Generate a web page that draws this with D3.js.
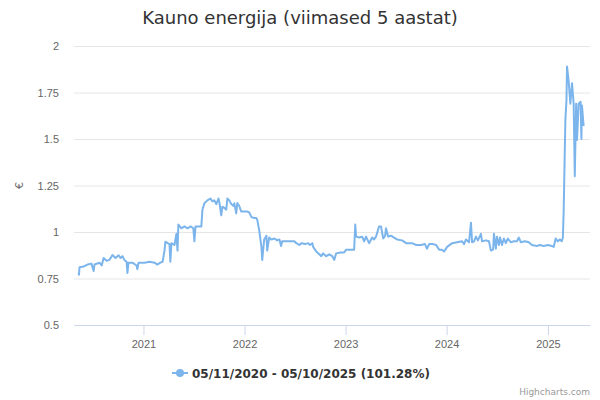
<!DOCTYPE html>
<html>
<head>
<meta charset="utf-8">
<script src="https://cdn.jsdelivr.net/npm/d3@7"></script>
<style>
  body { margin: 0; background: #fff; }
  svg { font-family: "DejaVu Sans", sans-serif; }
</style>
</head>
<body>
<svg id="chart"></svg>
<script>
// price history
const dates = [
  '2020-05-11','2020-05-13','2020-05-15','2020-05-30','2020-06-13','2020-06-27','2020-07-05','2020-07-08','2020-07-26','2020-08-03',
  '2020-08-10','2020-08-21','2020-08-31','2020-09-11','2020-09-22','2020-10-03','2020-10-10','2020-10-17','2020-10-24','2020-11-01',
  '2020-11-04','2020-11-08','2020-11-22','2020-12-07','2020-12-10','2020-12-14','2021-01-05','2021-01-23','2021-02-10','2021-02-20',
  '2021-03-03','2021-03-11','2021-03-18','2021-03-21','2021-03-29','2021-04-05','2021-04-08','2021-04-12','2021-04-23','2021-04-30',
  '2021-05-04','2021-05-07','2021-05-18','2021-05-29','2021-06-09','2021-06-20','2021-06-30','2021-07-04','2021-07-08','2021-07-29',
  '2021-08-02','2021-08-09','2021-08-20','2021-08-31','2021-09-07','2021-09-14','2021-09-21','2021-09-29','2021-10-02','2021-10-09',
  '2021-10-13','2021-10-20','2021-10-27','2021-10-31','2021-11-07','2021-11-14','2021-11-22','2021-11-25','2021-12-02','2021-12-06',
  '2021-12-13','2021-12-20','2021-12-31','2022-01-11','2022-01-18','2022-01-26','2022-02-05','2022-02-13','2022-02-16','2022-02-23',
  '2022-03-03','2022-03-06','2022-03-13','2022-03-21','2022-03-24','2022-03-31','2022-04-08','2022-04-19','2022-04-29','2022-05-07',
  '2022-05-13','2022-05-17','2022-06-12','2022-06-30','2022-07-07','2022-07-18','2022-07-25','2022-08-08','2022-08-19','2022-08-26',
  '2022-09-03','2022-09-06','2022-09-17','2022-09-28','2022-10-05','2022-10-12','2022-10-23','2022-11-03','2022-11-14','2022-11-21',
  '2022-11-28','2022-12-13','2022-12-27','2023-01-03','2023-01-21','2023-02-01','2023-02-05','2023-02-08','2023-02-19','2023-03-02',
  '2023-03-09','2023-03-16','2023-03-27','2023-04-07','2023-04-14','2023-04-21','2023-04-25','2023-05-02','2023-05-09','2023-05-17',
  '2023-05-24','2023-05-27','2023-06-04','2023-06-14','2023-06-25','2023-07-06','2023-07-24','2023-08-08','2023-08-29','2023-09-13',
  '2023-10-01','2023-10-15','2023-10-22','2023-10-30','2023-11-13','2023-11-24','2023-12-05','2023-12-15','2023-12-23','2024-01-03',
  '2024-01-21','2024-02-08','2024-02-26','2024-03-04','2024-03-11','2024-03-22','2024-03-29','2024-04-02','2024-04-09','2024-04-16',
  '2024-04-23','2024-05-04','2024-05-08','2024-05-22','2024-06-02','2024-06-09','2024-06-17','2024-06-20','2024-06-27','2024-07-01',
  '2024-07-08','2024-07-12','2024-07-19','2024-07-26','2024-08-02','2024-08-09','2024-08-20','2024-08-31','2024-09-11','2024-09-18',
  '2024-09-25','2024-10-10','2024-10-24','2024-11-04','2024-11-22','2024-12-03','2024-12-17','2025-01-01','2025-01-15','2025-01-22',
  '2025-01-29','2025-02-06','2025-02-13','2025-02-20','2025-02-24','2025-02-27','2025-03-05','2025-03-09','2025-03-11','2025-03-17',
  '2025-03-23','2025-03-29','2025-04-04','2025-04-08','2025-04-13','2025-04-16','2025-04-22','2025-04-29','2025-05-02','2025-05-04',
  '2025-05-10'
]
const prices = [
  0.78,0.77,0.81,0.815,0.825,0.83,0.79,0.825,0.835,0.82,
  0.86,0.845,0.85,0.876,0.86,0.875,0.86,0.87,0.85,0.84,
  0.78,0.835,0.835,0.82,0.80,0.835,0.835,0.84,0.835,0.825,
  0.835,0.84,0.90,0.948,0.94,0.935,0.84,0.94,0.93,0.99,
  0.90,1.04,1.02,1.03,1.02,1.03,1.02,0.95,1.03,1.03,
  1.12,1.155,1.17,1.18,1.165,1.17,1.15,1.18,1.16,1.09,
  1.136,1.13,1.12,1.18,1.17,1.15,1.14,1.155,1.10,1.156,
  1.14,1.11,1.11,1.11,1.105,1.08,1.075,1.075,1.065,1.01,
  0.92,0.85,0.96,0.98,0.90,0.97,0.96,0.965,0.955,0.96,
  0.925,0.95,0.95,0.95,0.94,0.93,0.94,0.935,0.94,0.93,
  0.94,0.92,0.895,0.88,0.87,0.885,0.87,0.88,0.87,0.85,
  0.885,0.89,0.89,0.905,0.905,0.905,1.04,0.975,0.97,0.975,
  0.95,0.975,0.94,0.97,0.96,0.975,0.995,1.03,1.03,0.965,
  0.98,1.02,0.975,0.98,0.97,0.96,0.955,0.94,0.94,0.93,
  0.93,0.935,0.91,0.935,0.935,0.93,0.905,0.905,0.895,0.92,
  0.94,0.945,0.95,0.935,0.96,0.945,1.05,0.945,0.95,0.975,
  0.955,0.99,0.95,0.955,0.95,0.90,0.905,0.99,0.91,0.975,
  0.93,0.97,0.93,0.965,0.94,0.965,0.945,0.95,0.95,0.97,
  0.945,0.95,0.945,0.93,0.925,0.93,0.925,0.93,0.925,0.92,
  0.965,0.95,0.96,0.95,0.97,1.12,1.60,1.71,1.89,1.81,
  1.69,1.80,1.69,1.30,1.69,1.495,1.69,1.70,1.50,1.68,
  1.57
]
const yTicks = [0.5, 0.75, 1, 1.25, 1.5, 1.75, 2]
const xTicks = ['2021-01-01', '2022-01-01', '2023-01-01', '2024-01-01', '2025-01-01']
const xDomain = ['2020-04-25', '2025-06-02']
const title = 'Kauno energija (viimased 5 aastat)'
const seriesName = '05/11/2020 - 05/10/2025 (101.28%)'

const width = 600, height = 400
const margin = {top: 46, right: 10, bottom: 75, left: 74}
const color = '#7cb5ec'

const parse = d3.utcParse('%Y-%m-%d')
const data = dates.map((d, i) => ({date: parse(d), price: prices[i]}))

const svg = d3.select('#chart')
  .attr('width', width)
  .attr('height', height)

const x = d3.scaleUtc()
  .domain(xDomain.map(parse))
  .range([margin.left, width - margin.right])

const y = d3.scaleLinear()
  .domain([0.5, 2])
  .range([height - margin.bottom, margin.top])

// title
svg.append('text')
  .attr('x', width / 2)
  .attr('y', 24)
  .attr('text-anchor', 'middle')
  .attr('fill', '#333')
  .style('font-size', '18px')
  .text(title)

// y axis: gridlines + labels
const yAxis = svg.append('g')
  .attr('transform', 'translate(' + margin.left + ',0)')
  .call(d3.axisLeft(y).tickValues(yTicks)
    .tickSize(-(width - margin.left - margin.right))
    .tickPadding(15)
    .tickFormat(d => String(d)))
yAxis.select('.domain').remove()
yAxis.selectAll('line').attr('stroke', '#e6e6e6')
yAxis.selectAll('text').attr('fill', '#666').style('font-size', '11px')

svg.append('text')
  .attr('transform', 'translate(23,' + y(1.25) + ') rotate(-90)')
  .attr('text-anchor', 'middle')
  .attr('fill', '#666')
  .style('font-size', '11px')
  .text('€')

// x axis
const xAxis = svg.append('g')
  .attr('transform', 'translate(0,' + (height - margin.bottom) + ')')
  .call(d3.axisBottom(x).tickValues(xTicks.map(parse))
    .tickSize(10)
    .tickSizeOuter(0)
    .tickPadding(5)
    .tickFormat(d3.utcFormat('%Y')))
xAxis.select('.domain').attr('stroke', '#ccd6eb')
xAxis.selectAll('line').attr('stroke', '#ccd6eb')
xAxis.selectAll('text').attr('fill', '#666').style('font-size', '11px')

// the series
const line = d3.line()
  .x(d => x(d.date))
  .y(d => y(d.price))

svg.append('path')
  .datum(data)
  .attr('fill', 'none')
  .attr('stroke', color)
  .attr('stroke-width', 2)
  .attr('stroke-linejoin', 'round')
  .attr('d', line)

// legend
const legend = svg.append('g').attr('transform', 'translate(172,373)')
legend.append('line')
  .attr('x1', 0).attr('x2', 16)
  .attr('stroke', color).attr('stroke-width', 2)
legend.append('circle')
  .attr('cx', 8).attr('r', 4)
  .attr('fill', color)
legend.append('text')
  .attr('x', 20)
  .attr('y', 4.5)
  .attr('fill', '#333')
  .style('font-size', '12px')
  .style('font-weight', 'bold')
  .text(seriesName)

// credits
svg.append('text')
  .attr('x', width - 10)
  .attr('y', height - 5)
  .attr('text-anchor', 'end')
  .attr('fill', '#999')
  .style('font-size', '9px')
  .text('Highcharts.com')
</script>
</body>
</html>
